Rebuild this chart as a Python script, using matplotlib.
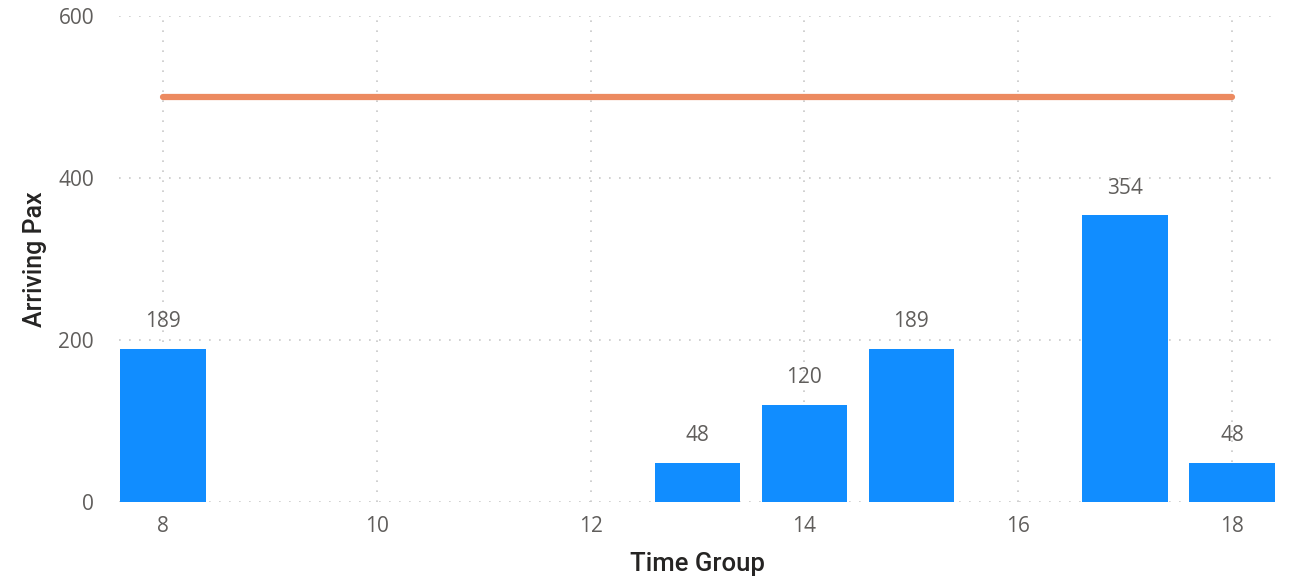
import matplotlib.pyplot as plt

# data
time_groups = [8, 13, 14, 15, 17, 18]
arriving_pax = [189, 48, 120, 189, 354, 48]
capacity_x = [8, 18]
capacity = [500, 500]

x_ticks = [8, 10, 12, 14, 16, 18]
y_ticks = [0, 200, 400, 600]

plt.rcParams['font.family'] = ['Open Sans', 'DejaVu Sans']

fig = plt.figure(figsize=(12.95, 5.83), dpi=100)
ax = fig.add_axes([0.0919, 0.1389, 0.8934, 0.8337])

ax.bar(time_groups, arriving_pax, width=0.8, color='#118DFF', zorder=3)
ax.plot(capacity_x, capacity, color='#EC8A60', linewidth=4.5,
        solid_capstyle='round', zorder=4)

for x, v in zip(time_groups, arriving_pax):
    ax.annotate(str(v), (x, v), xytext=(0, 12), textcoords='offset points',
                ha='center', va='bottom', fontsize=15, color='#605E5C')

ax.set_xlim(7.59, 18.41)
ax.set_ylim(0, 600)
ax.set_xticks(x_ticks)
ax.set_yticks(y_ticks)
ax.tick_params(length=0, labelsize=15, labelcolor='#605E5C', pad=10)
ax.tick_params(axis='y', pad=18)

ax.grid(True, linestyle=(0, (1, 5)), color='#C8C8C8', linewidth=1.2, zorder=0)
for s in ax.spines.values():
    s.set_visible(False)
ax.set_axisbelow(True)

ax.set_xlabel('Time Group', fontsize=18.5, color='#252423',
              family=['Roboto', 'DejaVu Sans'], fontweight='medium', labelpad=11)
ax.set_ylabel('Arriving Pax', fontsize=18, color='#252423',
              family=['Roboto', 'DejaVu Sans'], fontweight='medium', labelpad=8)

plt.savefig('out.png', dpi=100)
